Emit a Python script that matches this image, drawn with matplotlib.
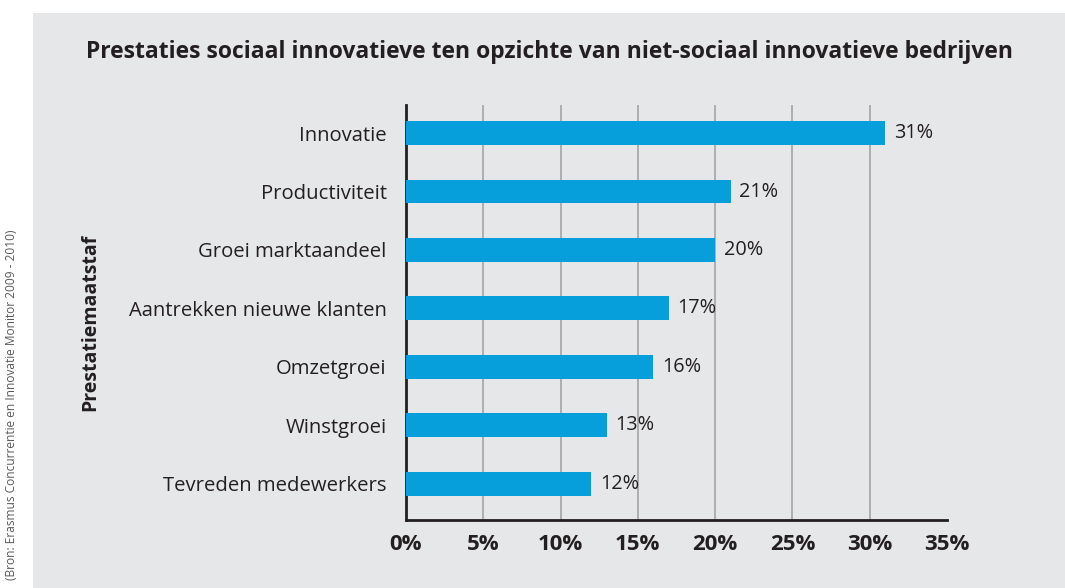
import matplotlib.pyplot as plt
from matplotlib.patches import Rectangle

categories = [
    "Innovatie",
    "Productiviteit",
    "Groei marktaandeel",
    "Aantrekken nieuwe klanten",
    "Omzetgroei",
    "Winstgroei",
    "Tevreden medewerkers",
]
values = [31, 21, 20, 17, 16, 13, 12]
x_ticks = [0, 5, 10, 15, 20, 25, 30, 35]

BAR_COLOR = "#079fdb"
BG_COLOR = "#e6e7e9"
TEXT_COLOR = "#231f20"

plt.rcParams["font.family"] = ["Open Sans", "DejaVu Sans"]

fig = plt.figure(figsize=(10.65, 5.88), dpi=100)
fig.patch.set_facecolor("white")

# gray panel behind the chart
fig.patches.append(Rectangle((33 / 1065, 0), 1 - 33 / 1065, 1 - 13 / 588,
                             transform=fig.transFigure, facecolor=BG_COLOR,
                             edgecolor="none", zorder=-10))

ax = fig.add_axes([406 / 1065, 68 / 588, 541 / 1065, 415 / 588])
ax.set_facecolor("none")

pos = list(range(len(categories) - 1, -1, -1))
ax.barh(pos, values, height=0.41, color=BAR_COLOR, zorder=3)
for p, v in zip(pos, values):
    ax.text(v + 0.55, p, f"{v}%", va="center", ha="left", fontsize=14.3,
            color=TEXT_COLOR)

ax.set_xlim(0, 35)
ax.set_ylim(-0.62, 6.48)
ax.set_xticks(x_ticks)
ax.set_xticklabels([f"{t}%" for t in x_ticks], fontsize=16,
                   fontweight="bold", color=TEXT_COLOR)
ax.set_yticks(pos)
ax.set_yticklabels(categories, fontsize=14.6, color=TEXT_COLOR)
ax.tick_params(axis="both", length=0)
ax.tick_params(axis="x", pad=10)
ax.tick_params(axis="y", pad=14)

ax.xaxis.grid(True, color="#a7a9ac", linewidth=1.3, zorder=0)
ax.set_axisbelow(True)
ax.get_xgridlines()[-1].set_visible(False)
for side in ["top", "right"]:
    ax.spines[side].set_visible(False)
for side in ["left", "bottom"]:
    ax.spines[side].set_color(TEXT_COLOR)
    ax.spines[side].set_linewidth(2)

fig.text(550 / 1065, 1 - 52 / 588,
         "Prestaties sociaal innovatieve ten opzichte van niet-sociaal innovatieve bedrijven",
         ha="center", va="center", fontsize=16.5, fontweight="bold",
         color=TEXT_COLOR)
fig.text(90 / 1065, 1 - 322 / 588, "Prestatiemaatstaf", rotation=90,
         ha="center", va="center", fontsize=14, fontweight="bold",
         color=TEXT_COLOR)
fig.text(12 / 1065, 1 - 405 / 588,
         "(Bron: Erasmus Concurrentie en Innovatie Monitor 2009 - 2010)",
         rotation=90, ha="center", va="center", fontsize=8.6, color="#58595b")

fig.savefig("out.png", dpi=100, facecolor=fig.get_facecolor())
